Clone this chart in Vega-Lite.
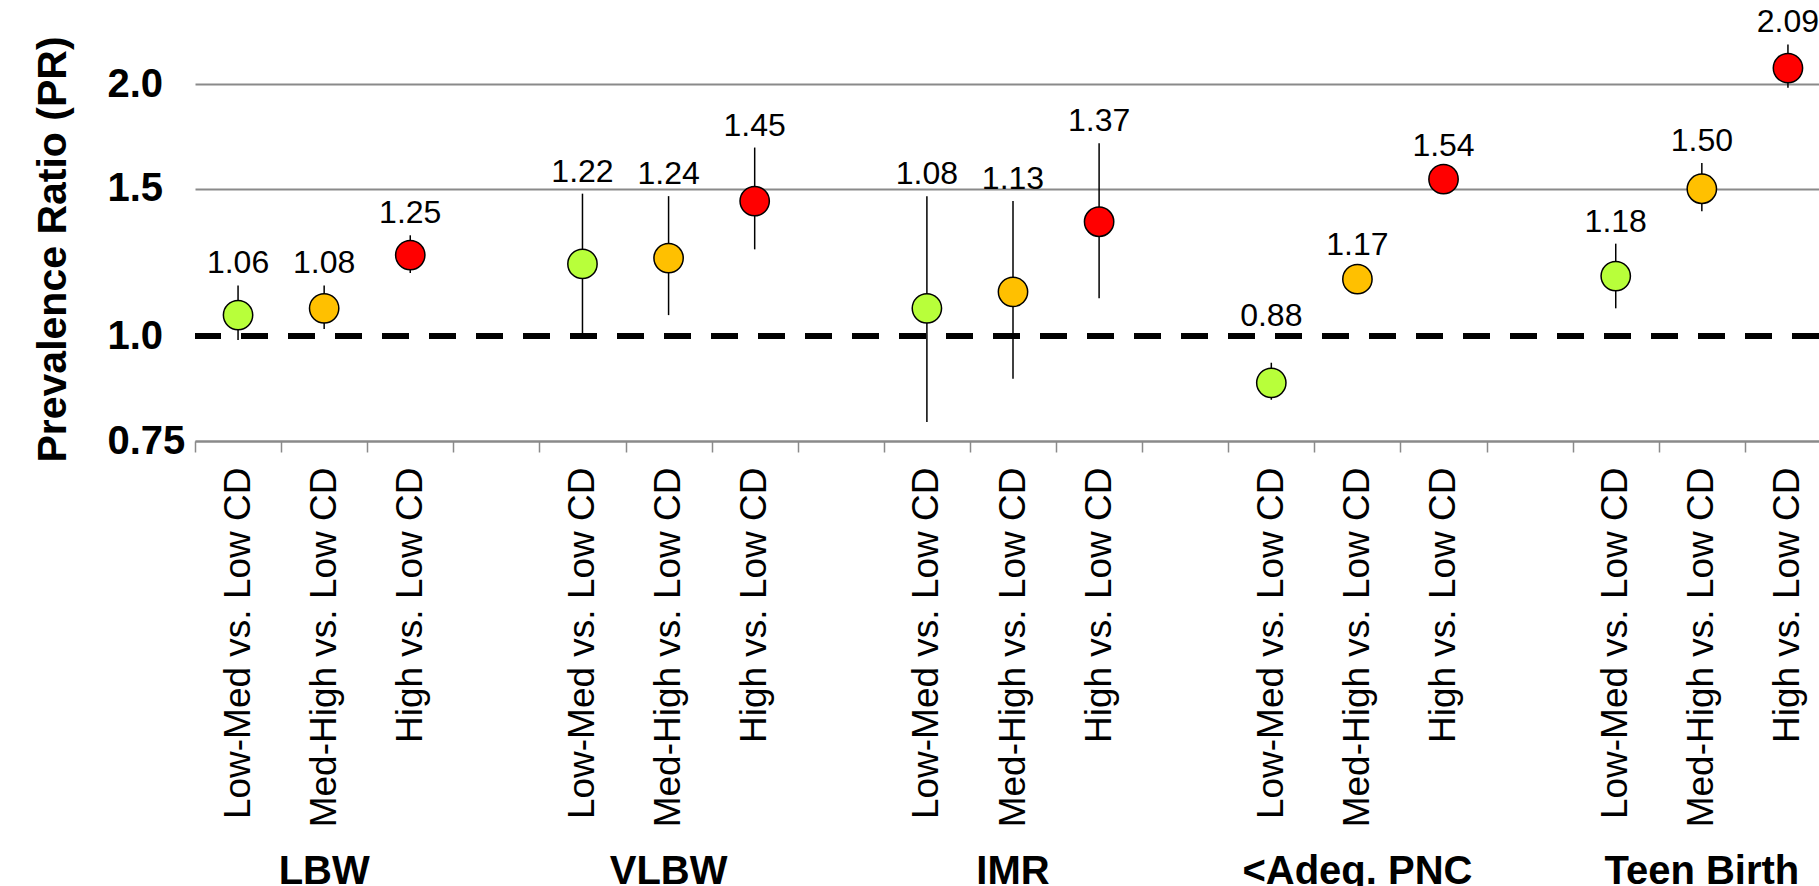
{
  "$schema": "https://vega.github.io/schema/vega-lite/v6.json",
  "width": 1624,
  "height": 441,
  "autosize": {"type": "none"},
  "padding": {"left": 195, "top": 0, "right": 0, "bottom": 445},
  "background": "white",
  "config": {
    "font": "Liberation Sans",
    "view": {"stroke": null},
    "axis": {"labelColor": "black", "titleColor": "black"}
  },
  "data": {
    "values": [
      {"group": "LBW", "comp": "Low-Med vs. Low CD", "slot": "LBW|Low-Med vs. Low CD", "pr": 1.06, "lo": 0.99, "hi": 1.15, "label": "1.06"},
      {"group": "LBW", "comp": "Med-High vs. Low CD", "slot": "LBW|Med-High vs. Low CD", "pr": 1.08, "lo": 1.02, "hi": 1.15, "label": "1.08"},
      {"group": "LBW", "comp": "High vs. Low CD", "slot": "LBW|High vs. Low CD", "pr": 1.25, "lo": 1.19, "hi": 1.32, "label": "1.25"},
      {"group": "VLBW", "comp": "Low-Med vs. Low CD", "slot": "VLBW|Low-Med vs. Low CD", "pr": 1.22, "lo": 1.0, "hi": 1.48, "label": "1.22"},
      {"group": "VLBW", "comp": "Med-High vs. Low CD", "slot": "VLBW|Med-High vs. Low CD", "pr": 1.24, "lo": 1.06, "hi": 1.47, "label": "1.24"},
      {"group": "VLBW", "comp": "High vs. Low CD", "slot": "VLBW|High vs. Low CD", "pr": 1.45, "lo": 1.27, "hi": 1.68, "label": "1.45"},
      {"group": "IMR", "comp": "Low-Med vs. Low CD", "slot": "IMR|Low-Med vs. Low CD", "pr": 1.08, "lo": 0.79, "hi": 1.47, "label": "1.08"},
      {"group": "IMR", "comp": "Med-High vs. Low CD", "slot": "IMR|Med-High vs. Low CD", "pr": 1.13, "lo": 0.89, "hi": 1.45, "label": "1.13"},
      {"group": "IMR", "comp": "High vs. Low CD", "slot": "IMR|High vs. Low CD", "pr": 1.37, "lo": 1.11, "hi": 1.70, "label": "1.37"},
      {"group": "<Adeq. PNC", "comp": "Low-Med vs. Low CD", "slot": "<Adeq. PNC|Low-Med vs. Low CD", "pr": 0.88, "lo": 0.84, "hi": 0.93, "label": "0.88"},
      {"group": "<Adeq. PNC", "comp": "Med-High vs. Low CD", "slot": "<Adeq. PNC|Med-High vs. Low CD", "pr": 1.17, "lo": 1.13, "hi": 1.21, "label": "1.17"},
      {"group": "<Adeq. PNC", "comp": "High vs. Low CD", "slot": "<Adeq. PNC|High vs. Low CD", "pr": 1.54, "lo": 1.49, "hi": 1.59, "label": "1.54"},
      {"group": "Teen Birth", "comp": "Low-Med vs. Low CD", "slot": "Teen Birth|Low-Med vs. Low CD", "pr": 1.18, "lo": 1.08, "hi": 1.29, "label": "1.18"},
      {"group": "Teen Birth", "comp": "Med-High vs. Low CD", "slot": "Teen Birth|Med-High vs. Low CD", "pr": 1.50, "lo": 1.41, "hi": 1.61, "label": "1.50"},
      {"group": "Teen Birth", "comp": "High vs. Low CD", "slot": "Teen Birth|High vs. Low CD", "pr": 2.09, "lo": 1.98, "hi": 2.23, "label": "2.09"}
    ]
  },
  "resolve": {"axis": {"x": "independent", "y": "shared"}},
  "layer": [
    {
      "mark": {"type": "rule", "color": "black", "strokeWidth": 1.5},
      "encoding": {
        "x": {
          "field": "slot", "type": "nominal",
          "scale": {"type": "band", "paddingInner": 0, "paddingOuter": 0, "range": [0, 1636],
            "domain": ["LBW|Low-Med vs. Low CD", "LBW|Med-High vs. Low CD", "LBW|High vs. Low CD", "g1|",
                       "VLBW|Low-Med vs. Low CD", "VLBW|Med-High vs. Low CD", "VLBW|High vs. Low CD", "g2|",
                       "IMR|Low-Med vs. Low CD", "IMR|Med-High vs. Low CD", "IMR|High vs. Low CD", "g3|",
                       "<Adeq. PNC|Low-Med vs. Low CD", "<Adeq. PNC|Med-High vs. Low CD", "<Adeq. PNC|High vs. Low CD", "g4|",
                       "Teen Birth|Low-Med vs. Low CD", "Teen Birth|Med-High vs. Low CD", "Teen Birth|High vs. Low CD"]},
          "axis": {
            "title": null, "orient": "bottom",
            "labelExpr": "split(datum.label, '|')[1]",
            "labelAngle": -90, "labelFontSize": 37, "labelPadding": 15, "labelLimit": 0,
            "labelOverlap": false, "labelBound": false, "labelFlush": false,
            "tickBand": "extent", "ticks": true, "tickSize": 11, "tickColor": "#8a8a8a", "tickWidth": 1.5,
            "domain": true, "domainColor": "#8a8a8a", "domainWidth": 2, "grid": false
          }
        },
        "y": {
          "field": "lo", "type": "quantitative",
          "scale": {"type": "log", "domain": [0.75, 2.52], "nice": false, "zero": false},
          "axis": {
            "title": "Prevalence Ratio (PR)",
            "values": [0.75, 1, 1.5, 2],
            "labelExpr": "datum.value == 0.75 ? '0.75' : format(datum.value, '.1f')",
            "domain": false, "ticks": false,
            "grid": true, "gridWidth": 2,
            "gridColor": {"condition": {"test": "datum.value == 1", "value": "transparent"}, "value": "#8a8a8a"},
            "labelFontSize": 40, "labelFontWeight": "bold", "labelAlign": "left", "labelBaseline": "middle", "labelPadding": 88, "labelLimit": 0,
            "labelOverlap": false, "labelBound": false, "labelFlush": false,
            "titleFontSize": 41, "titleFontWeight": "bold", "titleAngle": -90, "titleX": -130, "titleY": 249,
            "titleAlign": "center", "titleBaseline": "alphabetic"
          }
        },
        "y2": {"field": "hi"}
      }
    },
    {
      "mark": {"type": "rule", "color": "black", "strokeWidth": 5, "strokeDash": [27, 20]},
      "encoding": {
        "y": {"datum": 1, "type": "quantitative"}
      }
    },
    {
      "mark": {"type": "point", "shape": "circle", "filled": true, "size": 860, "stroke": "black", "strokeWidth": 1.5, "opacity": 1},
      "encoding": {
        "x": {
          "field": "slot", "type": "nominal",
          "axis": {
            "title": null, "orient": "bottom",
            "labelExpr": "indexof(datum.label, 'Med-High') >= 0 ? split(datum.label, '|')[0] : ''",
            "labelAngle": 0, "labelFontSize": 40, "labelFontWeight": "bold", "labelBaseline": "alphabetic", "labelPadding": 442, "labelLimit": 0,
            "labelOverlap": false, "labelBound": false, "labelFlush": false,
            "ticks": false, "domain": false, "grid": false
          }
        },
        "y": {"field": "pr", "type": "quantitative"},
        "fill": {
          "field": "comp", "type": "nominal", "legend": null,
          "scale": {"domain": ["Low-Med vs. Low CD", "Med-High vs. Low CD", "High vs. Low CD"], "range": ["#B8FF3A", "#FFC000", "#FF0000"]}
        }
      }
    },
    {
      "transform": [{"filter": "datum.hi >= 1"}],
      "mark": {"type": "text", "fontSize": 32, "baseline": "alphabetic", "align": "center", "dy": -12, "color": "black"},
      "encoding": {
        "x": {"field": "slot", "type": "nominal", "axis": null},
        "y": {"field": "hi", "type": "quantitative"},
        "text": {"field": "label"}
      }
    },
    {
      "transform": [{"filter": "datum.hi < 1"}],
      "mark": {"type": "text", "fontSize": 32, "baseline": "alphabetic", "align": "center", "dy": -10, "color": "black"},
      "encoding": {
        "x": {"field": "slot", "type": "nominal", "axis": null},
        "y": {"datum": 1, "type": "quantitative"},
        "text": {"field": "label"}
      }
    }
  ]
}
